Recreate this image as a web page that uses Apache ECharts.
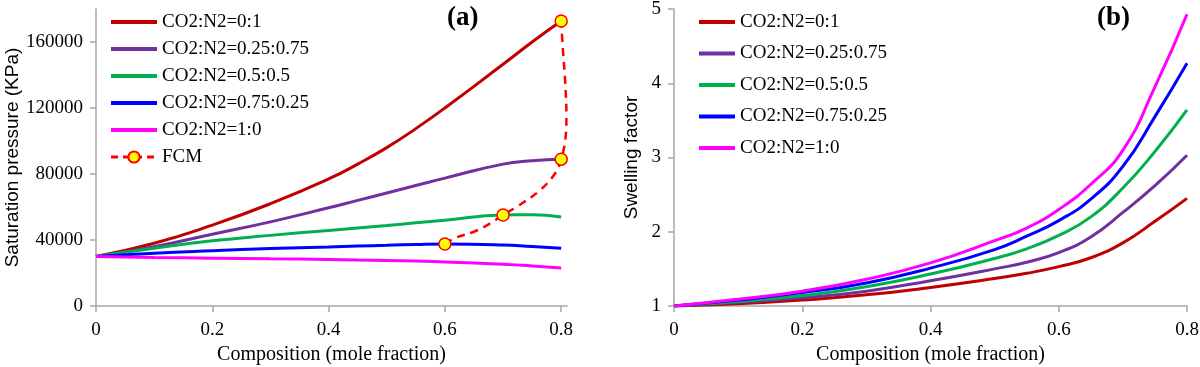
<!DOCTYPE html>
<html>
<head>
<meta charset="utf-8">
<script src="https://cdn.jsdelivr.net/npm/echarts@6/dist/echarts.min.js"></script>
<style>html,body{margin:0;padding:0;background:#fff;}#c{width:1200px;height:367px;}</style>
</head>
<body>
<div id="c"></div>
<script>
// ---- Panel (a): saturation pressure (KPa) ----
const compA = [0, 0.1, 0.2, 0.3, 0.4, 0.45, 0.5, 0.55, 0.6, 0.7, 0.75, 0.8];
const pA_0_1     = [30000, 38000, 49000, 62000, 77000, 86000, 96000, 107500, 120000, 146500, 160000, 172700];
const pA_25_75   = [30000, 36000, 43500, 51000, 59500, 64000, 68500, 73000, 77500, 86000, 88000, 89000];
const pA_50_50   = [30000, 35000, 39500, 42800, 45800, 47300, 48800, 50400, 52000, 55200, 55300, 54000];
const pA_75_25   = [30000, 32000, 33500, 34800, 35800, 36300, 36800, 37300, 37600, 37000, 36000, 35000];
const pA_1_0     = [30000, 29400, 29000, 28600, 28200, 27900, 27600, 27200, 26700, 25300, 24300, 23000];
// FCM curve; marked = points drawn with a circle
const fcmX   = [0.6, 0.62, 0.65, 0.678, 0.7, 0.724, 0.764, 0.79, 0.8, 0.807, 0.809, 0.807, 0.803, 0.8];
const fcmY   = [37600, 41600, 45000, 50100, 55200, 60200, 70300, 80600, 89000, 100600, 114700, 135000, 155200, 172700];
const fcmMark = [1, 0, 0, 0, 1, 0, 0, 0, 1, 0, 0, 0, 0, 1];
const yTicksA = [0, 40000, 80000, 120000, 160000];
const xTicks = [0, 0.2, 0.4, 0.6, 0.8];

// ---- Panel (b): swelling factor ----
const compB = [0, 0.1, 0.2, 0.3, 0.4, 0.5, 0.55, 0.6, 0.65, 0.7, 0.75, 0.8];
const sB_0_1   = [1, 1.03, 1.08, 1.15, 1.25, 1.37, 1.44, 1.53, 1.65, 1.85, 2.14, 2.45];
const sB_25_75 = [1, 1.05, 1.11, 1.20, 1.34, 1.50, 1.59, 1.72, 1.93, 2.26, 2.62, 3.03];
const sB_50_50 = [1, 1.06, 1.14, 1.26, 1.43, 1.64, 1.77, 1.95, 2.20, 2.59, 3.08, 3.64];
const sB_75_25 = [1, 1.08, 1.18, 1.31, 1.51, 1.76, 1.94, 2.15, 2.44, 2.88, 3.55, 4.27];
const sB_1_0   = [1, 1.09, 1.20, 1.36, 1.58, 1.88, 2.05, 2.30, 2.64, 3.10, 3.95, 4.93];
const yTicksB = [1, 2, 3, 4, 5];

const names = ['CO2:N2=0:1', 'CO2:N2=0.25:0.75', 'CO2:N2=0.5:0.5', 'CO2:N2=0.75:0.25', 'CO2:N2=1:0'];
const colors = ['#c00000', '#7030a0', '#00b050', '#0000ff', '#ff00ff'];
const seriesA = [pA_0_1, pA_25_75, pA_50_50, pA_75_25, pA_1_0];
const seriesB = [sB_0_1, sB_25_75, sB_50_50, sB_75_25, sB_1_0];

const SERIF = 'Liberation Serif';
const SANS = 'Liberation Sans';
const axisGray = '#a6a6a6';

function zip(xs, ys) { return xs.map((x, i) => [x, ys[i]]); }

function xAxisCfg(gridIndex, max) {
  return {
    type: 'value', gridIndex, min: 0, max, interval: 0.2,
    name: 'Composition (mole fraction)', nameLocation: 'middle', nameGap: 38,
    nameTextStyle: { fontFamily: SERIF, fontSize: 20, color: '#000' },
    axisLine: { show: true, lineStyle: { color: axisGray, width: 1.5 } },
    axisTick: { show: true, length: 6, lineStyle: { color: axisGray, width: 1.5 }, customValues: xTicks },
    axisLabel: { fontFamily: SERIF, fontSize: 19, color: '#000', margin: 15, customValues: xTicks,
      formatter: v => String(Math.round(v * 10) / 10) },
    splitLine: { show: false }
  };
}
function yAxisCfg(gridIndex, min, max, interval, name, gap, ticks) {
  return {
    type: 'value', gridIndex, min, max, interval,
    name, nameLocation: 'middle', nameGap: gap, nameRotate: 90,
    nameTextStyle: { fontFamily: SANS, fontSize: 19, color: '#000' },
    axisLine: { show: true, lineStyle: { color: axisGray, width: 1.5 } },
    axisTick: { show: true, length: 6, lineStyle: { color: axisGray, width: 1.5 }, customValues: ticks },
    axisLabel: { fontFamily: SERIF, fontSize: 19, color: '#000', margin: 13, customValues: ticks,
      formatter: v => String(v) },
    splitLine: { show: false }
  };
}

const series = [];
seriesA.forEach((arr, i) => {
  series.push({
    type: 'line', name: names[i], xAxisIndex: 0, yAxisIndex: 0, smooth: 0.5,
    symbol: 'none', data: zip(compA, arr),
    lineStyle: { color: colors[i], width: 3 }, itemStyle: { color: colors[i] }, z: 2
  });
});
series.push({
  type: 'line', name: 'FCM', xAxisIndex: 0, yAxisIndex: 0, smooth: 0.4, clip: false,
  symbol: 'circle', symbolSize: 12, showSymbol: true,
  data: fcmX.map((x, i) => fcmMark[i] ? [x, fcmY[i]] : { value: [x, fcmY[i]], symbol: 'none' }),
  lineStyle: { color: '#ff0000', width: 2.5, type: [8, 6] },
  itemStyle: { color: '#ffff00', borderColor: '#ff0000', borderWidth: 1.5 }, z: 5
});
seriesB.forEach((arr, i) => {
  series.push({
    type: 'line', name: names[i], xAxisIndex: 1, yAxisIndex: 1, smooth: 0.5,
    symbol: 'none', data: zip(compB, arr),
    lineStyle: { color: colors[i], width: 3 }, itemStyle: { color: colors[i] }
  });
});

const legendText = { fontFamily: SERIF, fontSize: 19, color: '#000', lineHeight: 20 };
const lineOnly = names.map((n, i) => ({
  name: n,
  itemStyle: { color: 'rgba(0,0,0,0)', borderWidth: 0, opacity: 0 },
  lineStyle: { color: colors[i], width: 4 }
}));
const fcmLegend = { name: 'FCM', lineStyle: { color: '#ff0000', width: 3, type: [7, 5] } };

const option = {
  animation: false,
  backgroundColor: '#fff',
  title: [
    { text: '(a)', left: 442, top: 0, textStyle: { fontFamily: SERIF, fontSize: 27, fontWeight: 'bold', color: '#000' } },
    { text: '(b)', left: 1092, top: 0, textStyle: { fontFamily: SERIF, fontSize: 27, fontWeight: 'bold', color: '#000' } }
  ],
  grid: [
    { left: 96, right: 633, top: 9, bottom: 61, outerBoundsMode: 'none', containLabel: false },
    { left: 674, right: 13, top: 9, bottom: 61, outerBoundsMode: 'none', containLabel: false }
  ],
  xAxis: [xAxisCfg(0, 0.81), xAxisCfg(1, 0.8)],
  yAxis: [
    yAxisCfg(0, 0, 180000, 40000, 'Saturation pressure (KPa)', 73, yTicksA),
    yAxisCfg(1, 1, 5, 1, 'Swelling factor', 33, yTicksB)
  ],
  legend: [
    { data: lineOnly.concat([fcmLegend]), orient: 'vertical', left: 109, top: 12, padding: 0, itemWidth: 46, itemHeight: 14,
      itemGap: 7, textStyle: legendText, selectedMode: false },
    { data: lineOnly, orient: 'vertical', left: 697, top: 12, padding: 0, itemWidth: 36, itemHeight: 14,
      itemGap: 11.5, textStyle: legendText, selectedMode: false }
  ],
  series
};

const chart = echarts.init(document.getElementById('c'), null, { renderer: 'canvas' });
chart.setOption(option);
</script>
</body>
</html>
